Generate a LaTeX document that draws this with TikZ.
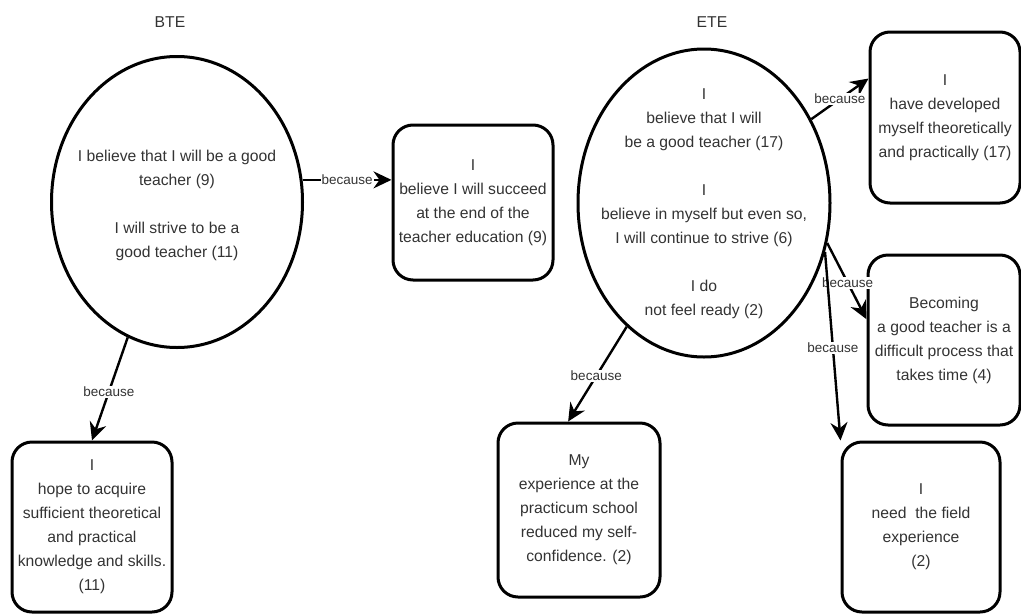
\documentclass[tikz,border=0pt]{standalone}
\usepackage{fontspec}
\setmainfont{Liberation Sans}
\usetikzlibrary{shapes.geometric,arrows.meta}
\definecolor{txt}{HTML}{333333}
\begin{document}
\begin{tikzpicture}[x=1pt,y=-1pt,
 ell/.style={ellipse, draw, line width=3pt, inner sep=0pt},
 box/.style={draw, line width=3pt, rounded corners=20pt, inner sep=0pt, align=center, text=txt, font=\fontsize{15.7}{24}\selectfont},
 txtnode/.style={align=center, text=txt, font=\fontsize{15.7}{24}\selectfont},
 arr/.style={line width=2.4pt, -{Stealth[length=18pt,width=17pt,inset=6pt]}},
 lbl/.style={fill=white, inner sep=1pt, text=txt, font=\fontsize{13.5}{15}\selectfont},
]
\useasboundingbox (0,0) rectangle (1021,614);

\node[txtnode] (btetitle) at (170,22) {BTE};
\node[txtnode] (etetitle) at (712,22) {ETE};

\node[ell, minimum width=251pt, minimum height=291pt] (bte) at (177,202) {};
\node[txtnode] (btetext) at (177,205) {I believe that I will be a good\\ teacher (9)\\[24pt] I will strive to be a\\ good teacher (11)};

\node[ell, minimum width=252pt, minimum height=308pt] (ete) at (704,203) {};
\node[txtnode] (etetext) at (704,204) {I\\ believe that I will\\ be a good teacher (17)\\[24pt] I\\ believe in myself but even so,\\ I will continue to strive (6)\\[24pt] I do\\ not feel ready (2)};

\node[box, minimum width=160pt, minimum height=155pt] (succ) at (473,202.5) {I\\ believe I will succeed\\ at the end of the\\ teacher education (9)};
\node[box, minimum width=150pt, minimum height=171pt] (dev) at (945,117.5) {I\\ have developed\\ myself theoretically\\ and practically (17)};
\node[box, minimum width=152pt, minimum height=170pt] (becom) at (944,340) {Becoming\\ a good teacher is a\\ difficult process that\\ takes time (4)};
\node[box, minimum width=158pt, minimum height=170pt] (field) at (921,527) {I\\ need~ the field\\ experience\\ (2)};
\node[box, minimum width=160pt, minimum height=170pt] (hope) at (92,527) {I\\ hope to acquire\\ sufficient theoretical\\ and practical\\ knowledge and skills.\\ (11)};
\node[box, minimum width=162pt, minimum height=174pt] (myexp) at (579,510) {My\\ experience at the\\ practicum school\\ reduced my self-\\ confidence. (2)};

\draw[arr] (bte.10.5) -- node[lbl]{because} (bte.10.5 -| succ.west);
\draw[arr] (bte.250) -- node[lbl, pos=0.53]{because} (hope.north);
\draw[arr] (ete.238.4) -- node[lbl, pos=0.52]{because} (myexp.97);
\draw[arr] (ete.38) -- node[lbl]{because} (dev.153);
\draw[arr] (ete.342) -- node[lbl, pos=0.52]{because} (becom.165);
\draw[arr] (ete.338) -- node[lbl, pos=0.51]{because} (field.north west);
\end{tikzpicture}
\end{document}
